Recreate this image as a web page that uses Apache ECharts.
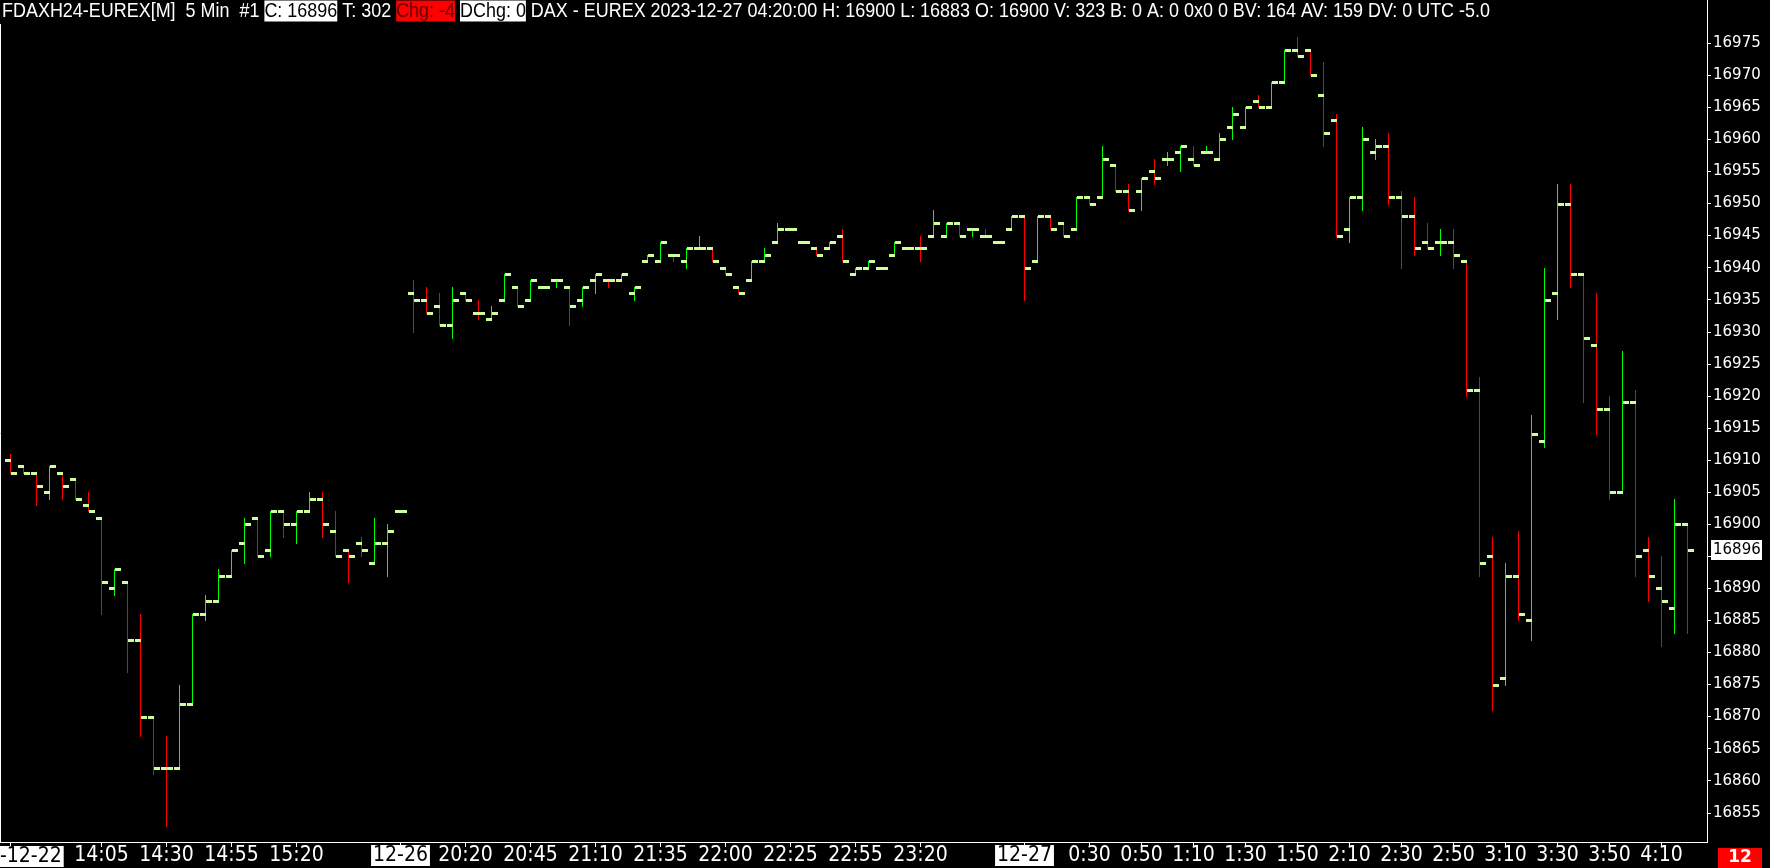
<!DOCTYPE html>
<html><head><meta charset="utf-8">
<script src="https://cdn.jsdelivr.net/npm/echarts@6/dist/echarts.min.js"></script>
<style>html,body{margin:0;padding:0;background:#000}#c{width:1770px;height:868px}</style>
</head><body><div id="c"></div>
<script>
// ---- data (5 min OHLC bars) ----
const OPEN = [
16910,16909,16908,16905,16908,16907,16903,16901,16890,16891,
16882,16870,16862,16862,16872,16886,16888,16892,16897,16901,
16896,16902,16900,16902,16904,16899,16896,16897,16894,16897,
16902,16936,16935,16934,16931,16936,16933,16932,16935,16937,
16935,16937,16938,16937,16935,16938,16938,16938,16936,16941,
16941,16942,16941,16943,16943,16940,16937,16938,16941,16944,
16946,16944,16943,16943,16945,16939,16940,16940,16942,16943,
16943,16945,16945,16947,16946,16945,16944,16946,16948,16941,
16948,16947,16946,16951,16951,16956,16952,16952,16955,16957,
16958,16957,16958,16957,16962,16962,16966,16965,16969,16974,
16974,16967,16963,16946,16951,16958,16959,16951,16948,16944,
16944,16944,16941,16921,16895,16876,16892,16885,16913,16936,
16950,16939,16928,16918,16905,16919,16896,16890,16887,16900];
const HIGH = [
16911,16909,16908,16909,16908,16907,16905,16901,16893,16891,
16886,16870,16867,16875,16886,16889,16893,16896,16901,16901,
16902,16902,16902,16905,16905,16902,16896,16898,16901,16900,
16902,16938,16937,16936,16937,16936,16935,16934,16939,16937,
16938,16937,16938,16937,16937,16939,16938,16939,16937,16942,
16944,16942,16943,16945,16943,16940,16937,16941,16943,16947,
16946,16944,16943,16944,16946,16940,16941,16940,16944,16943,
16945,16949,16947,16947,16946,16946,16944,16948,16948,16948,
16948,16947,16951,16951,16959,16956,16953,16954,16957,16958,
16959,16959,16959,16961,16965,16965,16967,16969,16974,16976,
16974,16972,16964,16951,16962,16960,16961,16952,16951,16947,
16946,16946,16941,16923,16898,16894,16899,16917,16940,16953,
16953,16939,16936,16920,16927,16921,16898,16895,16904,16900];
const LOW = [
16908,16908,16903,16904,16904,16904,16902,16886,16889,16877,
16867,16861,16853,16862,16872,16885,16888,16892,16894,16895,
16895,16898,16897,16902,16898,16895,16891,16895,16894,16892,
16902,16930,16933,16931,16929,16935,16932,16932,16935,16934,
16935,16937,16937,16931,16934,16936,16937,16938,16935,16941,
16941,16941,16940,16943,16941,16939,16936,16938,16941,16944,
16946,16944,16942,16943,16941,16939,16940,16940,16942,16943,
16941,16945,16945,16945,16945,16945,16944,16946,16935,16941,
16946,16945,16946,16950,16951,16952,16949,16949,16953,16956,
16955,16956,16958,16957,16960,16962,16965,16965,16969,16973,
16970,16959,16945,16944,16949,16957,16950,16940,16942,16943,
16942,16940,16920,16892,16871,16875,16885,16882,16912,16932,
16937,16919,16914,16904,16905,16892,16888,16881,16883,16883];
const CLOSE = [
16908,16908,16906,16909,16906,16904,16902,16891,16893,16882,
16870,16862,16862,16872,16886,16888,16892,16896,16900,16895,
16902,16900,16902,16904,16900,16895,16895,16896,16897,16899,
16902,16935,16933,16931,16935,16935,16933,16933,16939,16934,
16938,16937,16938,16934,16937,16939,16938,16939,16937,16942,
16944,16942,16943,16943,16941,16939,16936,16941,16942,16946,
16946,16944,16942,16944,16941,16940,16941,16940,16944,16943,
16943,16947,16947,16945,16946,16945,16944,16948,16940,16948,
16946,16945,16951,16950,16957,16952,16949,16954,16954,16957,
16959,16956,16958,16960,16964,16965,16965,16969,16974,16973,
16970,16961,16945,16951,16960,16959,16951,16948,16943,16943,
16944,16942,16921,16894,16875,16892,16886,16914,16935,16950,
16939,16929,16918,16905,16919,16895,16892,16888,16900,16896];

// x-axis tick labels (bar index -> text)
const TICK_INDEX = [7,12,17,22,30,35,40,45,50,55,60,65,70,78,83,87,91,95,99,103,107,111,115,119,123,127];
const TICK_TEXT  = ['14:05','14:30','14:55','15:20','12-26','20:20','20:45','21:10','21:35','22:00','22:25','22:55','23:20','12-27','0:30','0:50','1:10','1:30','1:50','2:10','2:30','2:50','3:10','3:30','3:50','4:10'];
const DATE_LABELS = ['12-26','12-27'];
const FIRST_DATE = '-12-22';
// y-axis tick labels
const Y_TICKS = [16855,16860,16865,16870,16875,16880,16885,16890,16895,16900,16905,16910,16915,16920,16925,16930,16935,16940,16945,16950,16955,16960,16965,16970,16975];
const HEADER = ['FDAXH24-EUREX[M]  5 Min  #1 ', 'C: 16896', ' T: 302 ', 'Chg: -4', ' ', 'DChg: 0',
  ' DAX - EUREX 2023-12-27 04:20:00 H: 16900 L: 16883 O: 16900 V: 323 B: 0 A: 0 0x0 0 BV: 164 AV: 159 DV: 0 UTC -5.0'];
const LAST_PRICE = 16896;
const BAR_COUNT_LABEL = '12';

// ---- build ----
const NARROW = '"DejaVu Sans Condensed", sans-serif';
const HFONT = '"Liberation Sans", Arial, sans-serif';
const categories = OPEN.map((_, i) => 'b' + i).concat(['']);
const dir = [];
for (let i = 0; i < OPEN.length; i++) {
  let d;
  if (CLOSE[i] > OPEN[i]) d = 1;
  else if (CLOSE[i] < OPEN[i]) d = -1;
  else if (i > 0 && CLOSE[i] > CLOSE[i-1]) d = 1;
  else if (i > 0 && CLOSE[i] < CLOSE[i-1]) d = -1;
  else d = i > 0 ? dir[i-1] : 1;
  dir.push(d);
}
const data = OPEN.map((o, i) => [i, o, HIGH[i], LOW[i], CLOSE[i], dir[i]]);
const tickMap = {};
TICK_INDEX.forEach((idx, k) => { tickMap[idx] = TICK_TEXT[k]; });

const chart = echarts.init(document.getElementById('c'), null, {renderer: 'canvas'});

function renderItem(params, api) {
  const i = api.value(0);
  const po = api.coord([i, api.value(1)]);
  const ph = api.coord([i, api.value(2)]);
  const pl = api.coord([i, api.value(3)]);
  const pc = api.coord([i, api.value(4)]);
  const x = Math.round(po[0] - 0.5);
  const col = api.value(5) > 0 ? '#00ff00' : '#ff0000';
  const mk = '#ccff99';
  const children = [];
  const yh = Math.round(ph[1]), yl = Math.round(pl[1]);
  if (yl - yh > 0) {
    children.push({type: 'rect', shape: {x: x, y: yh, width: 1, height: yl - yh + 1}, style: {fill: col}});
  }
  children.push({type: 'rect', shape: {x: x - 5, y: Math.round(po[1]) - 1, width: 6, height: 3}, style: {fill: mk}});
  children.push({type: 'rect', shape: {x: x + 1, y: Math.round(pc[1]) - 1, width: 6, height: 3}, style: {fill: mk}});
  return {type: 'group', children: children};
}

chart.setOption({
  backgroundColor: '#000',
  animation: false,
  grid: {left: 4, right: 63, top: 0, bottom: 26},
  xAxis: {
    type: 'category', data: categories, boundaryGap: true,
    axisLine: {show: false},
    axisTick: {show: true, alignWithLabel: true, length: 5, lineStyle: {color: '#fff'},
      interval: (i) => (tickMap[i] !== undefined || i === 0)},
    axisLabel: {
      interval: (i) => tickMap[i] !== undefined,
      formatter: (v, i) => {
        const t = tickMap[i];
        if (t === undefined) return '';
        return DATE_LABELS.indexOf(t) >= 0 ? '{d|' + t + '}' : t;
      },
      color: '#fff', fontFamily: NARROW, fontSize: 21, margin: 3,
      rich: {d: {backgroundColor: '#fff', color: '#000', fontFamily: NARROW, fontSize: 21, padding: [0, 2, 0, 2]}}
    },
    splitLine: {show: false}
  },
  yAxis: {
    type: 'value', position: 'right', min: 16850.446, max: 16981.736, scale: true,
    axisLine: {show: false},
    axisTick: {show: true, customValues: Y_TICKS, length: 4, lineStyle: {color: '#fff'}},
    axisLabel: {customValues: Y_TICKS, formatter: (v) => String(v), color: '#fff', fontFamily: 'DejaVu Sans', fontSize: 15, margin: 6},
    splitLine: {show: false}
  },
  series: [{type: 'custom', renderItem: renderItem, data: data, encode: {x: 0, y: [1, 2, 3, 4]}, clip: false, z: 5}]
});

// header horizontal scale so it spans like the original (narrow font look)
const mc = document.createElement('canvas').getContext('2d');
mc.font = '21px ' + HFONT;
const headerW = mc.measureText(HEADER.join('')).width;
const headerScale = 1488 / headerW;

const yLast = chart.convertToPixel({yAxisIndex: 0}, LAST_PRICE);
const headerText = '{n|' + HEADER[0] + '}{w|' + HEADER[1] + '}{n|' + HEADER[2] + '}{r|' + HEADER[3] + '}{n|' + HEADER[4] + '}{w|' + HEADER[5] + '}{n|' + HEADER[6] + '}';
const hfont = {fontFamily: HFONT, fontSize: 21, lineHeight: 22};
chart.setOption({
  graphic: [
    {type: 'line', shape: {x1: 0, y1: 842.5, x2: 1708, y2: 842.5}, style: {stroke: '#fff', lineWidth: 1}, z: 10},
    {type: 'line', shape: {x1: 1707.5, y1: 0, x2: 1707.5, y2: 843}, style: {stroke: '#fff', lineWidth: 1}, z: 10},
    {type: 'line', shape: {x1: 0.5, y1: 24, x2: 0.5, y2: 843}, style: {stroke: '#fff', lineWidth: 1}, z: 10},
    {type: 'text', x: 2, y: 0, scaleX: headerScale, z: 20, style: {
      text: headerText, fill: '#fff', fontFamily: HFONT, fontSize: 21, lineHeight: 22,
      rich: {
        n: Object.assign({fill: '#fff'}, hfont),
        w: Object.assign({fill: '#000', backgroundColor: '#fff'}, hfont),
        r: Object.assign({fill: '#600000', backgroundColor: '#ff0000'}, hfont)
      }}},
    {type: 'text', x: 0, y: 846, z: 20, style: {
      text: '{d|' + FIRST_DATE + '}', rich: {d: {fill: '#000', backgroundColor: '#fff', fontFamily: NARROW, fontSize: 21, lineHeight: 21, padding: [0, 2, 0, 0]}}}},
    {type: 'rect', z: 20, shape: {x: 1711, y: Math.round(yLast) - 10, width: 51, height: 20}, style: {fill: '#fff'}},
    {type: 'text', z: 21, x: 1713, y: Math.round(yLast), style: {text: String(LAST_PRICE), fill: '#000', fontFamily: 'DejaVu Sans', fontSize: 15, verticalAlign: 'middle'}},
    {type: 'rect', z: 20, shape: {x: 1718, y: 848, width: 44, height: 20}, style: {fill: '#ff0000'}},
    {type: 'text', z: 21, x: 1740, y: 858, style: {text: BAR_COUNT_LABEL, fill: '#fff', fontFamily: 'DejaVu Sans', fontSize: 17, fontWeight: 'bold', align: 'center', verticalAlign: 'middle'}}
  ]
});
</script></body></html>
